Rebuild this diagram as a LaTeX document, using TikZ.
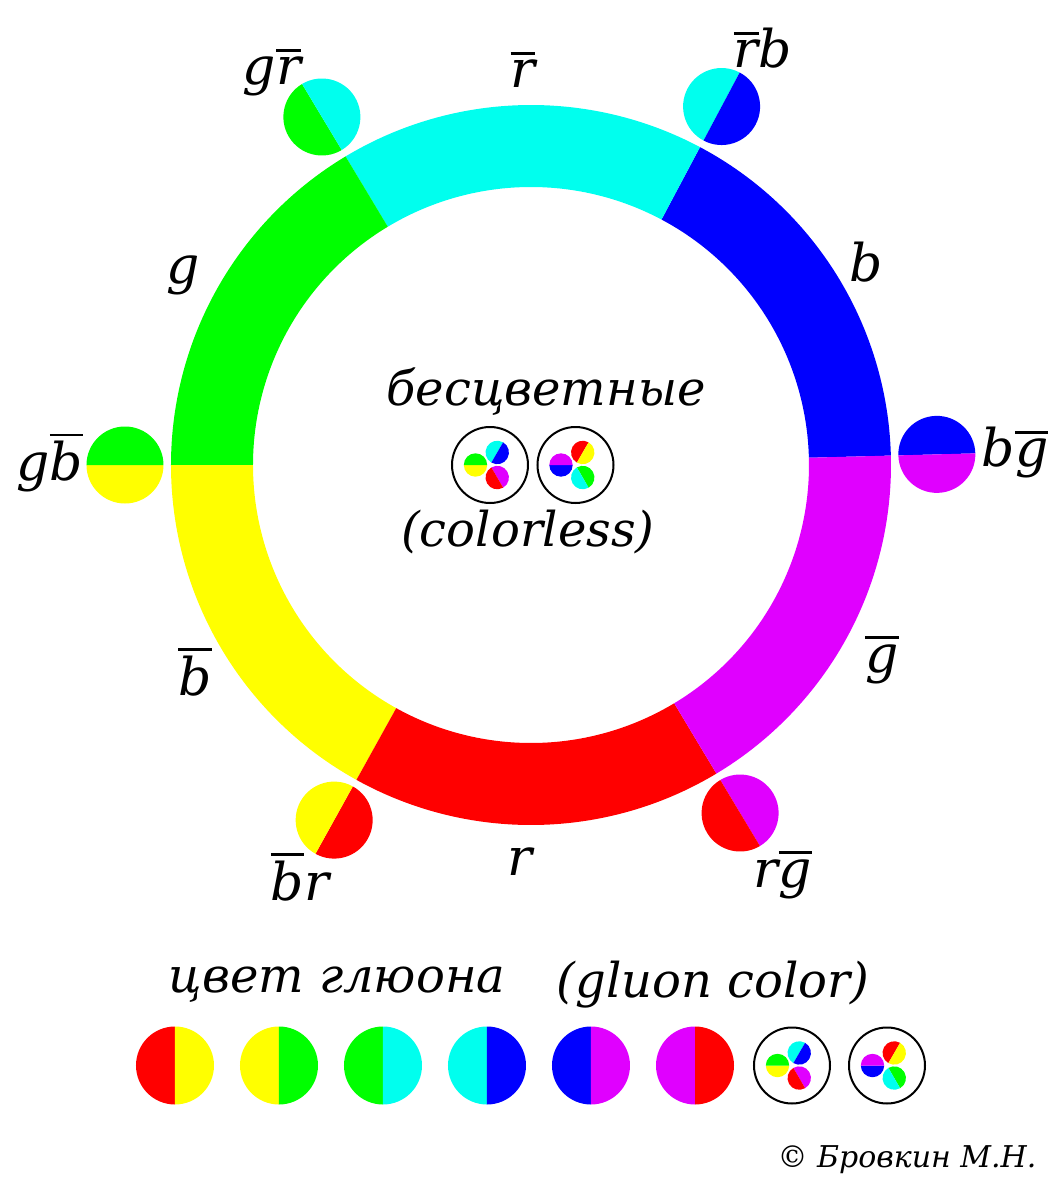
\documentclass[tikz,border=0pt]{standalone}
\usepackage{fontspec}
\setmainfont{DejaVu Serif}

\definecolor{qred}{RGB}{255,0,0}
\definecolor{qyellow}{RGB}{255,255,0}
\definecolor{qgreen}{RGB}{0,255,0}
\definecolor{qcyan}{RGB}{0,255,238}
\definecolor{qblue}{RGB}{0,0,255}
\definecolor{qmagenta}{RGB}{224,0,255}

% anti-colour: a bar over the letter
\newcommand\ovl[1]{\vbox{\hrule height 1.4pt\kern 2.5pt\hbox{#1}}}
% gluon disc: position, split angle, colour of the half after the split, other colour, radius
\newcommand\gluon[5]{%
  \fill[#3] #1 ++(#2:#5) arc[start angle=#2, delta angle=180, radius=#5] -- cycle;
  \fill[#4] #1 ++(#2+180:#5) arc[start angle=#2+180, delta angle=180, radius=#5] -- cycle;}
% colourless combinations: three small gluons in a ring
\newcommand\nocolorA[1]{%
  \begin{scope}[shift={#1}]
    \draw[line width=1pt] (0,0) circle[radius=38];
    \gluon{(180:14.5)}{180}{qyellow}{qgreen}{11.7}
    \gluon{(60:14.5)}{60}{qcyan}{qblue}{11.7}
    \gluon{(300:14.5)}{300}{qmagenta}{qred}{11.7}
  \end{scope}}
\newcommand\nocolorB[1]{%
  \begin{scope}[shift={#1}]
    \draw[line width=1pt] (0,0) circle[radius=38];
    \gluon{(180:14.5)}{180}{qblue}{qmagenta}{11.7}
    \gluon{(60:14.5)}{60}{qred}{qyellow}{11.7}
    \gluon{(300:14.5)}{300}{qgreen}{qcyan}{11.7}
  \end{scope}}

\begin{document}
\begin{tikzpicture}[x=0.5pt,y=0.5pt,
  lbl/.style={font=\fontsize{26}{30}\selectfont\itshape, inner sep=0pt},
  txt/.style={font=\fontsize{24}{28}\selectfont\itshape, inner sep=0pt},
  copy/.style={font=\fontsize{15}{18}\selectfont\itshape, inner sep=0pt}]
  \useasboundingbox (-531,-735) rectangle (531,465);
  % colour wheel: six sectors, one for each colour and anti-colour
  \foreach \a/\e/\c in {1.5/62/qblue,62/121/qcyan,121/180/qgreen,
      180/241/qyellow,241/301/qred,301/361.5/qmagenta}
    \fill[\c] (\a:360) arc[start angle=\a, end angle=\e, radius=360]
      -- (\e:278) arc[start angle=\e, end angle=\a, radius=278] -- cycle;
  % sector names
  \node[lbl] (rbar) at (-8,395) {\ovl{r}};
  \node[lbl] (g) at (-348,190) {g};
  \node[lbl] (b) at (335,203) {b};
  \node[lbl] (bbar) at (-336,-207) {\ovl{b}};
  \node[lbl] (gbar) at (351,-195) {\ovl{g}};
  \node[lbl] (r) at (-11,-397) {r};
  % gluons sit on the sector borders
  \foreach \a/\n in {1.5/bg,62/rb,121/gr,180/gb,241/br,301/rg}
    \coordinate (glu\n) at (\a:406);
  \gluon{(glubg)}{1.5}{qblue}{qmagenta}{38.5}
  \gluon{(glurb)}{62}{qcyan}{qblue}{38.5}
  \gluon{(glugr)}{121}{qgreen}{qcyan}{38.5}
  \gluon{(glugb)}{180}{qyellow}{qgreen}{38.5}
  \gluon{(glubr)}{241}{qred}{qyellow}{38.5}
  \gluon{(glurg)}{301}{qmagenta}{qred}{38.5}
  \node[lbl] (lgrbar) at (-259,392) {g\ovl{r}};
  \node[lbl] (lrbarb) at (232,417) {\ovl{r}b};
  \node[lbl] (lgbbar) at (-481,2) {g\ovl{b}};
  \node[lbl] (lbgbar) at (484,12) {b\ovl{g}};
  \node[lbl] (lbbarr) at (-231,-412) {\ovl{b}r};
  \node[lbl] (lrgbar) at (252,-410) {r\ovl{g}};
  % centre: the colourless states
  \node[txt] (nocol) at (15,73) {бесцветные};
  \node[txt] (nocolen) at (-3,-67) {(colorless)};
  \coordinate (ncA) at (-41,0);
  \coordinate (ncB) at (44.5,0);
  \nocolorA{(ncA)}
  \nocolorB{(ncB)}
  % legend row
  \node[txt] (gcol) at (-194,-520) {цвет глюона};
  \node[txt] (gcolen) at (182,-520) {(gluon color)};
  \foreach \x/\ca/\cb [count=\i] in {-356/qred/qyellow,-252/qyellow/qgreen,-148/qgreen/qcyan,
      -44/qcyan/qblue,60/qblue/qmagenta,164/qmagenta/qred} {
    \coordinate (row\i) at (\x,-600.5);
    \gluon{(row\i)}{90}{\ca}{\cb}{39}
  }
  \coordinate (row7) at (261,-600.5);
  \coordinate (row8) at (356,-600.5);
  \nocolorA{(row7)}
  \nocolorB{(row8)}
  \node[copy] (author) at (376,-695) {© Бровкин М.Н.};
\end{tikzpicture}
\end{document}
